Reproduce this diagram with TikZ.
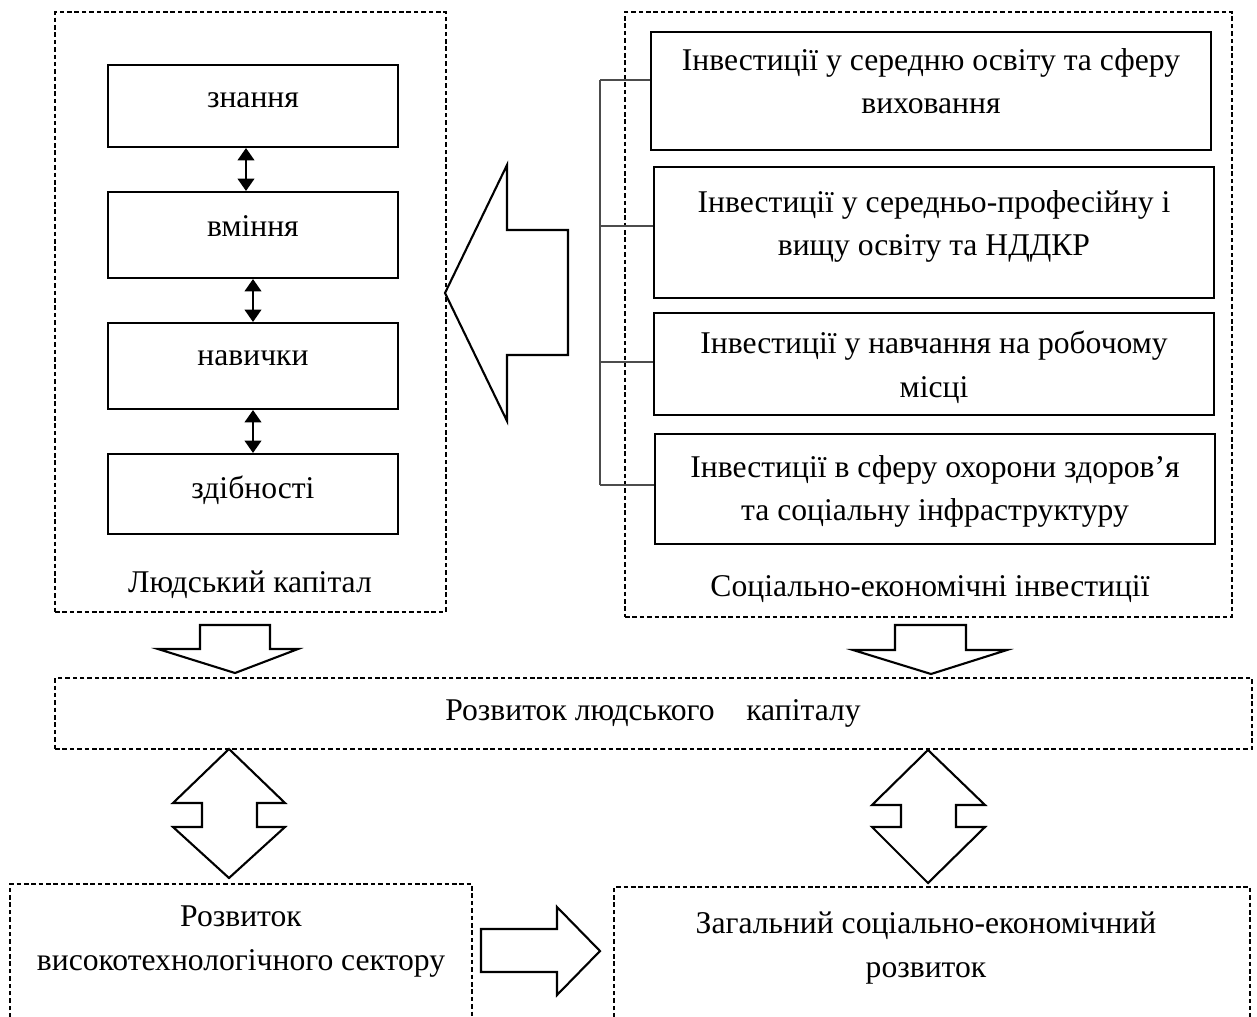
\documentclass[tikz,border=0pt]{standalone}
\usepackage{fontspec}
\setmainfont{Liberation Serif}
\usetikzlibrary{arrows.meta}
\begin{document}
\begin{tikzpicture}[x=0.02cm,y=-0.02cm,
  font=\fontsize{18}{25}\selectfont,
  dbox/.style={draw, dash pattern=on 2.6pt off 1.6pt, line width=1.4pt, inner sep=0pt},
  sbox/.style={draw, line width=1.2pt, inner sep=0pt, align=center},
  barrow/.style={draw, line width=1.2pt, fill=white, line join=miter},
  buswire/.style={draw=black!70, line width=0.6pt},
  dblarr/.style={line width=0.9pt, {Triangle[length=7pt,width=9.5pt]}-{Triangle[length=7pt,width=9.5pt]}},
  lbl/.style={inner sep=0pt, align=center}]
\useasboundingbox (0,0) rectangle (1257,1017);

% left group
\node[dbox, minimum width=7.82cm, minimum height=12cm] (hc) at (250.5,312) {};
\node[lbl] (hcl) at (250,585) {Людський капітал};
\node[sbox, minimum width=5.8cm, minimum height=1.64cm, text depth=0.24cm] (b1) at (253,106) {знання};
\node[sbox, minimum width=5.8cm, minimum height=1.72cm, text depth=0.34cm] (b2) at (253,235) {вміння};
\node[sbox, minimum width=5.8cm, minimum height=1.72cm, text depth=0.30cm] (b3) at (253,366) {навички};
\node[sbox, minimum width=5.8cm, minimum height=1.6cm, text depth=0.28cm] (b4) at (253,494) {здібності};
\draw[dblarr] ([xshift=-0.14cm]b1.south) -- ([xshift=-0.14cm]b2.north);
\draw[dblarr] (b2.south) -- (b3.north);
\draw[dblarr] (b3.south) -- (b4.north);

% right group
\node[dbox, minimum width=12.14cm, minimum height=12.1cm] (si) at (928.5,314.5) {};
\node[lbl] (sil) at (930,589) {Соціально-економічні інвестиції};
\node[sbox, minimum width=11.2cm, minimum height=2.36cm, text depth=0.40cm] (r1) at (931,91) {Інвестиції у середню освіту та сферу\\виховання};
\node[sbox, minimum width=11.2cm, minimum height=2.62cm, text depth=0.38cm] (r2) at (934,232.5) {Інвестиції у середньо-професійну і\\вищу освіту та НДДКР};
\node[sbox, minimum width=11.2cm, minimum height=2.04cm, text depth=0cm] (r3) at (934,364) {Інвестиції у навчання на робочому\\місці};
\node[sbox, minimum width=11.2cm, minimum height=2.2cm, text depth=0.04cm] (r4) at (935,489) {Інвестиції в сферу охорони здоров’я\\та соціальну інфраструктуру};
\coordinate (t1) at (600,80);
\coordinate (t2) at (600,226);
\coordinate (t3) at (600,362);
\coordinate (t4) at (600,485);
\draw[buswire] (t1) -- (t4);
\draw[buswire] (t1) -- (t1 -| r1.west);
\draw[buswire] (t2) -- (t2 -| r2.west);
\draw[buswire] (t3) -- (t3 -| r3.west);
\draw[buswire] (t4) -- (t4 -| r4.west);

% big left arrow
\draw[barrow] (445,293) -- (507,165) -- (507,230) -- (568,230) -- (568,355) -- (507,355) -- (507,421) -- cycle;

% down arrows
\draw[barrow] (200,625) -- (270,625) -- (270,649) -- (298,649) -- (235,673) -- (158,649) -- (200,649) -- cycle;
\draw[barrow] (895,625) -- (966,625) -- (966,650) -- (1007,650) -- (931,674) -- (853,650) -- (895,650) -- cycle;

% middle box
\node[dbox, minimum width=23.94cm, minimum height=1.42cm] (rl) at (653.5,713.5) {};
\node[lbl] (rlt) at (653,713) {Розвиток людського\quad капіталу};

% double block arrows
\draw[barrow] (229,749) -- (285,803) -- (257,803) -- (257,827) -- (285,827) -- (229,878) -- (173,827) -- (202,827) -- (202,803) -- (173,803) -- cycle;
\draw[barrow] (928,750) -- (985,805) -- (956,805) -- (956,827) -- (985,827) -- (928,883) -- (872,827) -- (901,827) -- (901,805) -- (872,805) -- cycle;

% bottom boxes
\draw[dbox] (10,1025) -- (10,884) -- (472,884) -- (472,1025);
\node[lbl] (ht) at (241,942) {Розвиток\\високотехнологічного сектору};
\draw[dbox] (614,1025) -- (614,887) -- (1250,887) -- (1250,1025);
\node[lbl] (gs) at (926,948) {Загальний соціально-економічний\\розвиток};

% right arrow
\draw[barrow] (481,929) -- (557,929) -- (557,907) -- (600,951) -- (557,995) -- (557,972) -- (481,972) -- cycle;
\end{tikzpicture}
\end{document}
